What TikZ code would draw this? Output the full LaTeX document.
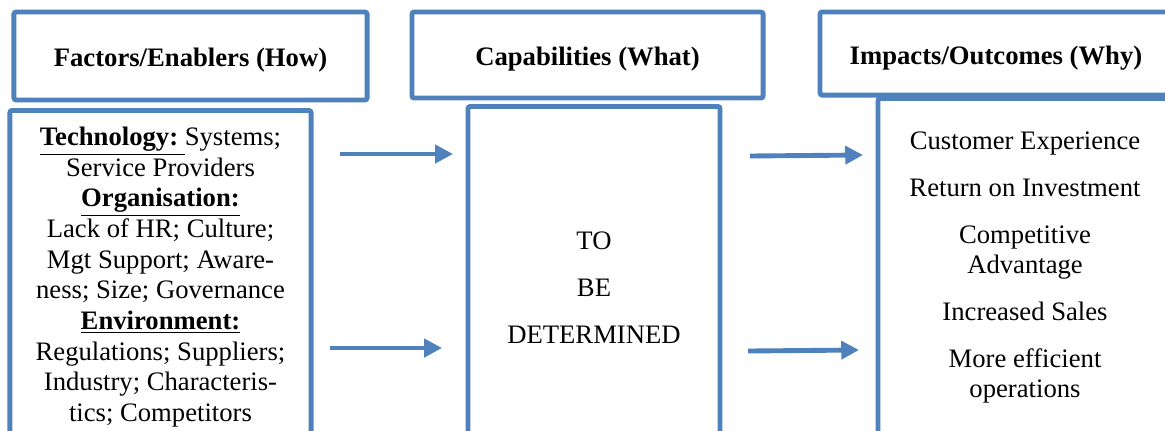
\documentclass[tikz,border=0pt]{standalone}
\usepackage{fontspec}
\setmainfont{Liberation Serif}
\usetikzlibrary{arrows.meta}
\definecolor{boxblue}{HTML}{4F81BD}
\tikzset{
  hdr/.style={draw=boxblue,line width=2.2pt,rounded corners=1pt,inner sep=0pt,text height=9.7pt,text depth=0pt,font=\fontsize{12}{13.8}\selectfont\bfseries},
  bodybox/.style={draw=boxblue,line width=2.2pt,rounded corners=1pt,anchor=north,minimum height=190pt},
  txt/.style={align=center,inner sep=0pt,anchor=north,font=\fontsize{12}{13.8}\selectfont},
  flow/.style={draw=boxblue,line width=2.2pt,-{Triangle[length=8pt,width=8pt]}}
}
\begin{document}
\begin{tikzpicture}[x=0.45pt,y=-0.45pt]
\useasboundingbox (0,0) rectangle (1165,430);
\clip (0,0) rectangle (1165,430);
\fill[white] (0,0) rectangle (1165,430);
% column bodies
\node[bodybox,minimum width=135.5pt] (b1) at (160.5,108) {};
\node[bodybox,minimum width=113.4pt] (b2) at (594,104) {};
\node[bodybox,minimum width=132.3pt] (b3) at (1025,96) {};
% headers
\node[hdr,minimum width=158.9pt,minimum height=39.6pt] (h1) at (190.5,56) {Factors/Enablers (How)};
\node[hdr,minimum width=158pt,minimum height=38.7pt] (h2) at (587.5,55) {Capabilities (What)};
\node[hdr,minimum width=158.4pt,minimum height=37.4pt] (h3) at (996,53.5) {Impacts/Outcomes (Why)};
% texts
\node[txt] (t1) at (160.5,123.5) {\strut\underline{\textbf{Technology:\ }}Systems;\\
  Service Providers\\
  \underline{\textbf{Organisation:}}\\
  Lack of HR; Culture;\\
  Mgt Support; Aware-\\
  ness; Size; Governance\\
  \underline{\textbf{Environment:}}\\
  Regulations; Suppliers;\\
  Industry; Characteris-\\
  tics; Competitors};
\node[txt] (t2) at (594,228) {\strut TO\\[7.2pt] BE\\[7.2pt] DETERMINED};
\node[txt] (t3) at (1025,128) {\strut Customer Experience\\[7.2pt]
  Return on Investment\\[7.2pt]
  Competitive\\ Advantage\\[7.2pt]
  Increased Sales\\[7.2pt]
  More efficient\\ operations};
% arrows
\coordinate (a1) at (340,154);
\coordinate (c1) at (453,154);
\coordinate (a2) at (330,348);
\coordinate (c2) at (442,348);
\coordinate (a3) at (750,156);
\coordinate (c3) at (863,155);
\coordinate (a4) at (748,351);
\coordinate (c4) at (859,350);
\foreach \from/\to in {a1/c1,a2/c2,a3/c3,a4/c4}
  \draw[flow] (\from) -- (\to);
\end{tikzpicture}
\end{document}
